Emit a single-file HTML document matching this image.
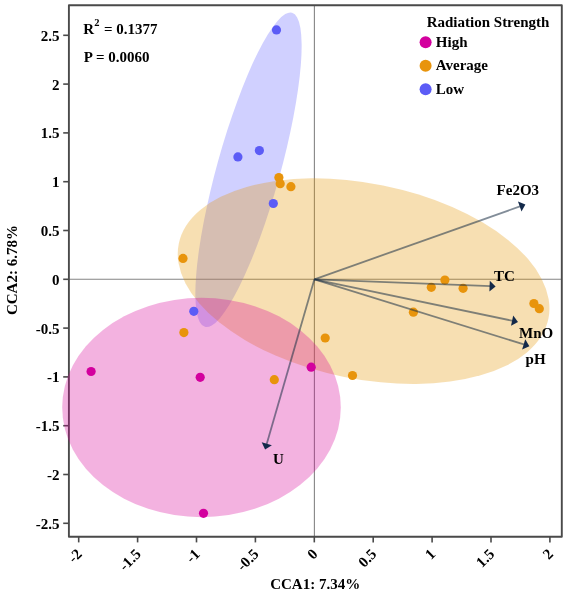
<!DOCTYPE html>
<html><head><meta charset="utf-8"><style>
html,body{margin:0;padding:0;background:#fff;}
svg{display:block;will-change:transform;filter:blur(0.3px);}
text{font-family:"Liberation Serif",serif;font-weight:bold;font-size:15px;fill:#000;}
</style></head><body>
<svg width="567" height="594" viewBox="0 0 567 594">
<rect width="567" height="594" fill="#fff"/>
<line x1="68.9" y1="279.3" x2="561.8" y2="279.3" stroke="#858585" stroke-width="1.1"/>
<line x1="314.4" y1="5.2" x2="314.4" y2="536.8" stroke="#858585" stroke-width="1.1"/>
<rect x="68.9" y="5.2" width="492.9" height="531.6" fill="none" stroke="#4a4a4a" stroke-width="1.9" stroke-linejoin="round"/>
<line x1="63.2" y1="35.3" x2="68.9" y2="35.3" stroke="#4a4a4a" stroke-width="1.6"/>
<text x="59.4" y="40.8" text-anchor="end">2.5</text>
<line x1="63.2" y1="84.1" x2="68.9" y2="84.1" stroke="#4a4a4a" stroke-width="1.6"/>
<text x="59.4" y="89.6" text-anchor="end">2</text>
<line x1="63.2" y1="132.9" x2="68.9" y2="132.9" stroke="#4a4a4a" stroke-width="1.6"/>
<text x="59.4" y="138.4" text-anchor="end">1.5</text>
<line x1="63.2" y1="181.7" x2="68.9" y2="181.7" stroke="#4a4a4a" stroke-width="1.6"/>
<text x="59.4" y="187.2" text-anchor="end">1</text>
<line x1="63.2" y1="230.5" x2="68.9" y2="230.5" stroke="#4a4a4a" stroke-width="1.6"/>
<text x="59.4" y="236" text-anchor="end">0.5</text>
<line x1="63.2" y1="279.3" x2="68.9" y2="279.3" stroke="#4a4a4a" stroke-width="1.6"/>
<text x="59.4" y="284.8" text-anchor="end">0</text>
<line x1="63.2" y1="328.1" x2="68.9" y2="328.1" stroke="#4a4a4a" stroke-width="1.6"/>
<text x="59.4" y="333.6" text-anchor="end">-0.5</text>
<line x1="63.2" y1="376.9" x2="68.9" y2="376.9" stroke="#4a4a4a" stroke-width="1.6"/>
<text x="59.4" y="382.4" text-anchor="end">-1</text>
<line x1="63.2" y1="425.7" x2="68.9" y2="425.7" stroke="#4a4a4a" stroke-width="1.6"/>
<text x="59.4" y="431.2" text-anchor="end">-1.5</text>
<line x1="63.2" y1="474.5" x2="68.9" y2="474.5" stroke="#4a4a4a" stroke-width="1.6"/>
<text x="59.4" y="480" text-anchor="end">-2</text>
<line x1="63.2" y1="523.3" x2="68.9" y2="523.3" stroke="#4a4a4a" stroke-width="1.6"/>
<text x="59.4" y="528.8" text-anchor="end">-2.5</text>
<line x1="78.7" y1="536.8" x2="78.7" y2="542.4" stroke="#4a4a4a" stroke-width="1.6"/>
<text transform="translate(82.9,555) rotate(-45)" text-anchor="end">-2</text>
<line x1="137.6" y1="536.8" x2="137.6" y2="542.4" stroke="#4a4a4a" stroke-width="1.6"/>
<text transform="translate(141.8,555) rotate(-45)" text-anchor="end">-1.5</text>
<line x1="196.5" y1="536.8" x2="196.5" y2="542.4" stroke="#4a4a4a" stroke-width="1.6"/>
<text transform="translate(200.7,555) rotate(-45)" text-anchor="end">-1</text>
<line x1="255.4" y1="536.8" x2="255.4" y2="542.4" stroke="#4a4a4a" stroke-width="1.6"/>
<text transform="translate(259.6,555) rotate(-45)" text-anchor="end">-0.5</text>
<line x1="314.3" y1="536.8" x2="314.3" y2="542.4" stroke="#4a4a4a" stroke-width="1.6"/>
<text transform="translate(318.5,555) rotate(-45)" text-anchor="end">0</text>
<line x1="373.2" y1="536.8" x2="373.2" y2="542.4" stroke="#4a4a4a" stroke-width="1.6"/>
<text transform="translate(377.4,555) rotate(-45)" text-anchor="end">0.5</text>
<line x1="432.1" y1="536.8" x2="432.1" y2="542.4" stroke="#4a4a4a" stroke-width="1.6"/>
<text transform="translate(436.3,555) rotate(-45)" text-anchor="end">1</text>
<line x1="491" y1="536.8" x2="491" y2="542.4" stroke="#4a4a4a" stroke-width="1.6"/>
<text transform="translate(495.2,555) rotate(-45)" text-anchor="end">1.5</text>
<line x1="549.9" y1="536.8" x2="549.9" y2="542.4" stroke="#4a4a4a" stroke-width="1.6"/>
<text transform="translate(554.1,555) rotate(-45)" text-anchor="end">2</text>
<g fill-opacity="0.3">
<ellipse cx="248.5" cy="169.8" rx="163" ry="31.6" transform="rotate(-74.5 248.5 169.8)" fill="#6464ff"/>
<ellipse cx="363.6" cy="281.15" rx="188.6" ry="97.7" transform="rotate(11.46 363.6 281.15)" fill="#e69500"/>
<ellipse cx="201.5" cy="407.5" rx="139.3" ry="109.7" fill="#d60098"/>
</g>
<circle cx="278.9" cy="177.5" r="4.6" fill="#e8940c"/>
<circle cx="280.2" cy="183.7" r="4.6" fill="#e8940c"/>
<circle cx="290.9" cy="186.7" r="4.6" fill="#e8940c"/>
<circle cx="183.0" cy="258.4" r="4.6" fill="#e8940c"/>
<circle cx="183.9" cy="332.6" r="4.6" fill="#e8940c"/>
<circle cx="274.3" cy="379.7" r="4.6" fill="#e8940c"/>
<circle cx="325.2" cy="338.0" r="4.6" fill="#e8940c"/>
<circle cx="352.5" cy="375.5" r="4.6" fill="#e8940c"/>
<circle cx="413.4" cy="312.2" r="4.6" fill="#e8940c"/>
<circle cx="431.3" cy="287.3" r="4.6" fill="#e8940c"/>
<circle cx="444.9" cy="280.1" r="4.6" fill="#e8940c"/>
<circle cx="463.1" cy="288.3" r="4.6" fill="#e8940c"/>
<circle cx="533.9" cy="303.5" r="4.6" fill="#e8940c"/>
<circle cx="539.3" cy="308.7" r="4.6" fill="#e8940c"/>
<circle cx="91.1" cy="371.5" r="4.6" fill="#d3009e"/>
<circle cx="200.2" cy="377.3" r="4.6" fill="#d3009e"/>
<circle cx="311.2" cy="367.2" r="4.6" fill="#d3009e"/>
<circle cx="203.5" cy="513.3" r="4.6" fill="#d3009e"/>
<circle cx="276.5" cy="29.9" r="4.6" fill="#5c5cf6"/>
<circle cx="237.9" cy="156.9" r="4.6" fill="#5c5cf6"/>
<circle cx="259.4" cy="150.6" r="4.6" fill="#5c5cf6"/>
<circle cx="273.3" cy="203.5" r="4.6" fill="#5c5cf6"/>
<circle cx="193.8" cy="311.3" r="4.6" fill="#5c5cf6"/>
<line x1="314.4" y1="279.3" x2="520.69" y2="206.17" stroke="#1c3046" stroke-opacity="0.55" stroke-width="1.8"/>
<polygon points="525.4,204.5 521.52,211.5 517.97,201.51" fill="#13294a"/>
<text x="496.6" y="194.7">Fe2O3</text>
<line x1="314.4" y1="279.3" x2="490.6" y2="286.2" stroke="#1c3046" stroke-opacity="0.55" stroke-width="1.8"/>
<polygon points="495.6,286.4 489.4,291.46 489.81,280.87" fill="#13294a"/>
<text x="494.0" y="281.0">TC</text>
<line x1="314.4" y1="279.3" x2="513.11" y2="320.88" stroke="#1c3046" stroke-opacity="0.55" stroke-width="1.8"/>
<polygon points="518,321.9 511.04,325.86 513.21,315.48" fill="#13294a"/>
<text x="519.0" y="337.8">MnO</text>
<line x1="314.4" y1="279.3" x2="524.63" y2="344.71" stroke="#1c3046" stroke-opacity="0.55" stroke-width="1.8"/>
<polygon points="529.4,346.2 522.1,349.48 525.25,339.36" fill="#13294a"/>
<text x="525.6" y="363.8">pH</text>
<line x1="314.4" y1="279.3" x2="266.49" y2="444.8" stroke="#1c3046" stroke-opacity="0.55" stroke-width="1.8"/>
<polygon points="265.1,449.6 261.68,442.36 271.86,445.31" fill="#13294a"/>
<text x="273.0" y="464.2">U</text>
<text x="315.2" y="588.6" text-anchor="middle">CCA1: 7.34%</text>
<text transform="translate(16.9,270.1) rotate(-90)" text-anchor="middle">CCA2: 6.78%</text>
<text x="83.3" y="33.5">R<tspan font-size="10.5" dy="-7.8">2</tspan><tspan dy="7.8" dx="0.8"> = 0.1377</tspan></text>
<text x="83.8" y="61.7">P = 0.0060</text>
<text x="426.7" y="27.3">Radiation Strength</text>
<circle cx="425.6" cy="42.2" r="6" fill="#d3009e"/>
<text x="435.8" y="46.9">High</text>
<circle cx="425.6" cy="65.8" r="6" fill="#e8940c"/>
<text x="435.8" y="70.2">Average</text>
<circle cx="425.6" cy="89.2" r="6" fill="#5c5cf6"/>
<text x="435.8" y="93.8">Low</text>
</svg></body></html>
